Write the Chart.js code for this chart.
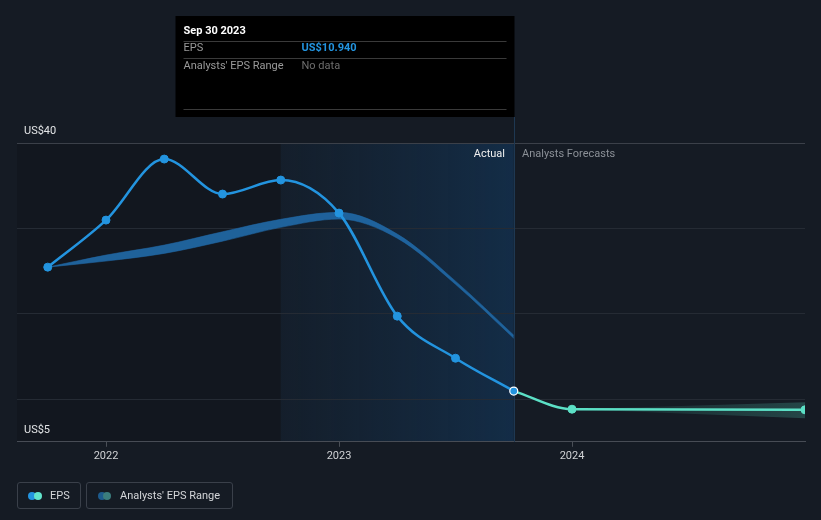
<!DOCTYPE html>
<html><head><meta charset="utf-8">
<script src="https://cdn.jsdelivr.net/npm/chart.js@4.4.0/dist/chart.umd.min.js"></script>
<style>
html,body{margin:0;padding:0;background:#151b24;}
#wrap{position:relative;width:821px;height:520px;overflow:hidden;}
canvas{position:absolute;left:0;top:0;}
.lg{position:absolute;top:482px;height:25px;border:1px solid #3a404a;border-radius:3px;font:11px Roboto, sans-serif;color:#d4d6d9;}
.lg .dot{position:absolute;width:8px;height:8px;border-radius:50%;top:8.5px;}
.lg .t{position:absolute;top:0;line-height:25px;white-space:nowrap;}
</style></head>
<body>
<div id="wrap">
<canvas id="c" width="821" height="520"></canvas>
<div class="lg" style="left:17px;width:62px;">
  <span class="dot" style="left:9.5px;background:#2394df;"></span>
  <span class="dot" style="left:15.5px;background:#62e4cb;"></span>
  <span class="t" style="left:32px;">EPS</span>
</div>
<div class="lg" style="left:86px;width:145px;">
  <span class="dot" style="left:10.8px;background:#1d5b8d;"></span>
  <span class="dot" style="left:16.3px;background:#3b7d7e;"></span>
  <span class="t" style="left:33px;">Analysts' EPS Range</span>
</div>
</div>
<script>
const actualDates = [2021.75, 2022.0, 2022.25, 2022.5, 2022.75, 2023.0, 2023.25, 2023.5, 2023.75];
const actualEps = [25.46, 30.97, 38.12, 34.02, 35.66, 31.79, 19.72, 14.79, 10.94];
const pastRangeHigh = [25.46, 26.87, 28.04, 29.6, 31.06, 31.88, 29.33, 23.82, 17.49];
const pastRangeLow = [25.46, 26.17, 27.07, 28.5, 30.12, 31.09, 28.85, 23.45, 17.13];
const forecastDates = [2023.75, 2024.0, 2025.0];
const forecastEps = [10.94, 8.82, 8.75];
const rangeDates = [2024.0, 2025.0];
const forecastHigh = [8.82, 9.64];
const forecastLow = [8.82, 7.76];
const yTicks = [5, 10, 20, 30, 40];
const xTicks = [2022, 2023, 2024];
const yTickLabels = {40: 'US$40', 5: 'US$5'};
const tipDate = 'Sep 30 2023';
const tipValue = 'US$10.940';

const BLUE = '#2394df';
const TEAL = '#5ce0c6';
const BAND = 'rgba(33,104,165,0.92)';
const pts = (xs, ys) => xs.map((x, i) => ({x, y: ys[i]}));
const lastIdx = actualDates.length - 1;

Chart.defaults.font.family = 'Roboto, sans-serif';

const overlay = {
  id: 'overlay',
  beforeDraw(chart) {
    const {ctx, chartArea: a, scales: {x}} = chart;
    const xs = x.getPixelForValue(actualDates[lastIdx - 4]);
    const xe = x.getPixelForValue(actualDates[lastIdx]);
    ctx.save();
    ctx.fillStyle = 'rgba(0,0,0,0.13)';
    ctx.fillRect(a.left, a.top, xs - a.left, a.bottom - a.top);
    const g = ctx.createLinearGradient(xs, 0, xe, 0);
    g.addColorStop(0, 'rgba(18,60,100,0.12)');
    g.addColorStop(1, 'rgba(18,70,120,0.42)');
    ctx.fillStyle = g;
    ctx.fillRect(xs, a.top, xe - xs, a.bottom - a.top);
    ctx.restore();
  },
  beforeDatasetsDraw(chart) {
    const {ctx, chartArea: a, scales: {x}} = chart;
    const xe = Math.round(x.getPixelForValue(actualDates[lastIdx])) + 0.5;
    ctx.save();
    ctx.strokeStyle = '#1e3852';
    ctx.lineWidth = 1;
    ctx.beginPath();
    ctx.moveTo(xe, 117);
    ctx.lineTo(xe, a.bottom);
    ctx.stroke();
    ctx.restore();
  },
  afterDraw(chart) {
    const {ctx, chartArea: a, scales: {x}} = chart;
    const xe = Math.round(x.getPixelForValue(actualDates[lastIdx]));
    ctx.save();
    ctx.font = '11px Roboto, sans-serif';
    ctx.textBaseline = 'middle';
    ctx.textAlign = 'right';
    ctx.fillStyle = '#f0f0f0';
    ctx.fillText('Actual', xe - 9, a.top + 11);
    ctx.textAlign = 'left';
    ctx.fillStyle = '#8b9097';
    ctx.fillText('Analysts Forecasts', xe + 8, a.top + 11);

    // tooltip
    const w = 339, top = 16, h = 101;
    const left = xe - w + 0.5;
    ctx.fillStyle = '#000000';
    ctx.fillRect(left, top, w, h);
    ctx.strokeStyle = '#3a3a3a';
    ctx.lineWidth = 1;
    [41.5, 58.5, 109.5].forEach(yy => {
      ctx.beginPath();
      ctx.moveTo(left + 8, yy);
      ctx.lineTo(left + w - 8, yy);
      ctx.stroke();
    });
    ctx.textAlign = 'left';
    ctx.font = 'bold 11px Roboto, sans-serif';
    ctx.fillStyle = '#ffffff';
    ctx.fillText(tipDate, left + 8, 31);
    ctx.font = '11px Roboto, sans-serif';
    ctx.fillStyle = '#9a9a9a';
    ctx.fillText('EPS', left + 8, 48.5);
    ctx.fillText("Analysts' EPS Range", left + 8, 66);
    ctx.font = 'bold 11px Roboto, sans-serif';
    ctx.fillStyle = BLUE;
    ctx.fillText(tipValue, left + 126, 48.5);
    ctx.font = '11px Roboto, sans-serif';
    ctx.fillStyle = '#6e6e6e';
    ctx.fillText('No data', left + 126, 66);
    ctx.restore();
  }
};

new Chart(document.getElementById('c'), {
  type: 'line',
  data: {
    datasets: [
      {
        label: 'EPS',
        data: pts(actualDates, actualEps),
        borderColor: BLUE,
        borderWidth: 2.5,
        cubicInterpolationMode: 'monotone',
        pointRadius: 4,
        pointBackgroundColor: BLUE,
        pointBorderColor: (c) => c.dataIndex === lastIdx ? '#ffffff' : BLUE,
        pointBorderWidth: (c) => c.dataIndex === lastIdx ? 1.2 : 1,
        fill: false
      },
      {
        label: 'EPS forecast',
        data: pts(forecastDates, forecastEps),
        borderColor: TEAL,
        borderWidth: 2.5,
        cubicInterpolationMode: 'monotone',
        pointRadius: (c) => c.dataIndex === 0 ? 0 : 4,
        pointBackgroundColor: TEAL,
        pointBorderColor: TEAL,
        pointBorderWidth: 1,
        fill: false,
        clip: 0
      },
      {
        label: 'Range high',
        data: pts(actualDates, pastRangeHigh),
        borderColor: BAND,
        borderWidth: 0.6,
        backgroundColor: BAND,
        cubicInterpolationMode: 'monotone',
        pointRadius: 0,
        fill: '+1'
      },
      {
        label: 'Range low',
        data: pts(actualDates, pastRangeLow),
        borderColor: BAND,
        borderWidth: 0.6,
        cubicInterpolationMode: 'monotone',
        pointRadius: 0,
        fill: false
      },
      {
        label: 'Forecast high',
        data: pts(rangeDates, forecastHigh),
        borderWidth: 0,
        pointRadius: 0,
        backgroundColor: (c) => {
          const ch = c.chart;
          if (!ch.chartArea) return 'rgba(92,224,198,0.15)';
          const x0 = ch.scales.x.getPixelForValue(rangeDates[0]);
          const x1 = ch.scales.x.getPixelForValue(rangeDates[rangeDates.length - 1]);
          const g = ch.ctx.createLinearGradient(x0, 0, x1, 0);
          g.addColorStop(0, 'rgba(92,224,198,0.04)');
          g.addColorStop(1, 'rgba(92,224,198,0.22)');
          return g;
        },
        fill: '+1'
      },
      {
        label: 'Forecast low',
        data: pts(rangeDates, forecastLow),
        borderWidth: 0,
        pointRadius: 0,
        fill: false
      }
    ]
  },
  options: {
    responsive: false,
    animation: false,
    events: [],
    layout: {padding: {left: 3, right: 16, top: 143, bottom: 54}},
    plugins: {legend: {display: false}, tooltip: {enabled: false}},
    scales: {
      x: {
        type: 'linear',
        min: 2021.618,
        max: 2025.0,
        afterBuildTicks: (s) => { s.ticks = xTicks.map(v => ({value: v})); },
        ticks: {
          color: '#d0d2d5',
          font: {size: 11},
          padding: 3,
          maxRotation: 0,
          callback: (v) => String(v)
        },
        grid: {drawOnChartArea: false, drawTicks: true, tickLength: 5, color: '#4a4f57'},
        border: {display: true, color: '#474c55', width: 1}
      },
      y: {
        type: 'linear',
        min: 5,
        max: 40,
        afterBuildTicks: (s) => { s.ticks = yTicks.map(v => ({value: v})); },
        ticks: {
          mirror: true,
          padding: 7,
          labelOffset: -12,
          color: '#e2e4e6',
          font: {size: 11},
          callback: (v) => yTickLabels[v] || ''
        },
        grid: {
          drawTicks: false,
          color: (c) => (c.tick && (c.tick.value === 40 || c.tick.value === 5)) ? '#3b4049' : '#252b34'
        },
        border: {display: false}
      }
    }
  },
  plugins: [overlay]
});
</script>
</body></html>
